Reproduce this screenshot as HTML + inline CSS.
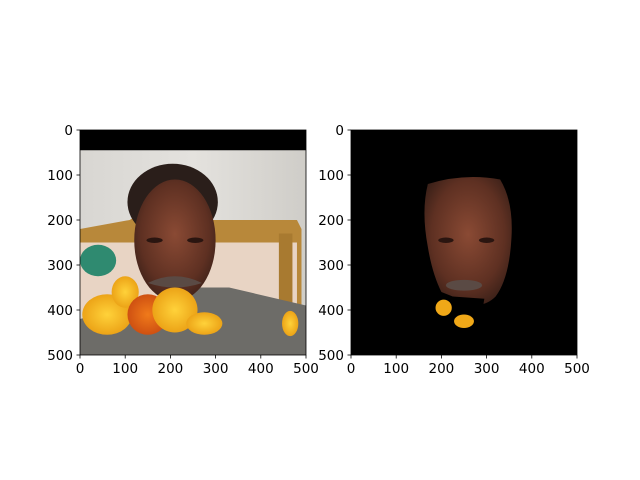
<!DOCTYPE html>
<html><head><meta charset="utf-8"><style>
html,body{margin:0;padding:0;background:#fff;}
svg{display:block;font-family:"DejaVu Sans","Liberation Sans",sans-serif;}
</style></head><body>
<svg id="fig" width="640" height="480" viewBox="0 0 640 480">
<defs>
<linearGradient id="wall" x1="0" y1="0" x2="1" y2="0"><stop offset="0" stop-color="#d8d6d2"/><stop offset="0.5" stop-color="#e4e2de"/><stop offset="1" stop-color="#cfcdc8"/></linearGradient>
<radialGradient id="skin" cx="0.5" cy="0.45" r="0.6"><stop offset="0" stop-color="#8a4a34"/><stop offset="0.7" stop-color="#5e3022"/><stop offset="1" stop-color="#3a2018"/></radialGradient>
<radialGradient id="leaf" cx="0.5" cy="0.5" r="0.6"><stop offset="0" stop-color="#ffd23a"/><stop offset="1" stop-color="#e89a10"/></radialGradient>
<radialGradient id="leafR" cx="0.5" cy="0.5" r="0.6"><stop offset="0" stop-color="#f07a1a"/><stop offset="1" stop-color="#c84810"/></radialGradient>
<clipPath id="clipL"><rect x="0" y="0" width="500" height="500"/></clipPath>
</defs>
</svg>
<script>
const xTicks=[0,100,200,300,400,500];
const yTicks=[0,100,200,300,400,500];
const xLim=[0,500];
const yLim=[0,500];
const axesBoxes=[{name:'left-image-axes',x0:80,y0:130,w:226,h:225},{name:'right-image-axes',x0:351,y0:130,w:226,h:225}];
const NS='http://www.w3.org/2000/svg';
const svg=document.getElementById('fig');
function mk(tag,attrs,parent){const e=document.createElementNS(NS,tag);for(const k in attrs)e.setAttribute(k,attrs[k]);(parent||svg).appendChild(e);return e;}
function content(g,idx){
  if(idx===0){
    let e;
    e=mk('rect',{x:0,y:0,width:500,height:500,fill:'url(#wall)'},g);
    
    e=mk('rect',{x:0,y:0,width:500,height:45,fill:'#000'},g);
    
    mk('path',{d:'M0 220 L110 200 L140 180 L170 200 L360 200 L480 200 L490 220 L490 400 L0 400 Z',fill:'#b8883a'},g);
    mk('rect',{x:0,y:250,width:480,height:150,fill:'#e8d4c4'},g);
    mk('ellipse',{cx:40,cy:290,rx:40,ry:35,fill:'#2f8a70'},g);
    mk('rect',{x:440,y:230,width:30,height:170,fill:'#a87a30'},g);
    mk('path',{d:'M0 420 L150 380 L250 350 L330 350 L500 390 L500 500 L0 500 Z',fill:'#6d6c68'},g);
    mk('ellipse',{cx:205,cy:160,rx:100,ry:85,fill:'#2a1e1a'},g);
    e=mk('ellipse',{cx:210,cy:245,rx:90,ry:135,fill:'url(#skin)'},g);
    
    mk('path',{d:'M150 340 Q210 310 270 340 Q210 360 150 340 Z',fill:'#5a4a44'},g);
    mk('ellipse',{cx:165,cy:245,rx:18,ry:6,fill:'#2a1510'},g);
    mk('ellipse',{cx:255,cy:245,rx:18,ry:6,fill:'#2a1510'},g);
    const leaves=[[60,410,55,45,'url(#leaf)'],[100,360,30,35,'url(#leaf)'],[150,410,45,45,'url(#leafR)'],[210,400,50,50,'url(#leaf)'],[275,430,40,25,'url(#leaf)'],[465,430,18,28,'url(#leaf)']];
    leaves.forEach((l,i)=>{e=mk('ellipse',{cx:l[0],cy:l[1],rx:l[2],ry:l[3],fill:l[4]},g);
      });
  } else {
    let e=mk('rect',{x:0,y:0,width:500,height:500,fill:'#000'},g);
    
    e=mk('path',{d:'M170 120 Q250 95 330 110 Q360 160 355 240 Q350 330 320 370 Q290 400 250 380 L200 360 Q180 320 170 260 Q155 180 170 120 Z',fill:'url(#skin)'},g);
    
    mk('ellipse',{cx:250,cy:345,rx:40,ry:12,fill:'#5a4a44'},g);
    mk('ellipse',{cx:210,cy:245,rx:17,ry:6,fill:'#2a1510'},g);
    mk('ellipse',{cx:300,cy:245,rx:17,ry:6,fill:'#2a1510'},g);
    mk('ellipse',{cx:205,cy:395,rx:18,ry:18,fill:'#f0a818'},g);
    mk('ellipse',{cx:250,cy:425,rx:22,ry:15,fill:'#f0a818'},g);
    mk('path',{d:'M225 370 L295 375 L290 405 L240 410 Z',fill:'#000'},g);
  }
}
axesBoxes.forEach((b,idx)=>{
  const sx=v=>b.x0+(v-xLim[0])/(xLim[1]-xLim[0])*b.w;
  const sy=v=>b.y0+(v-yLim[0])/(yLim[1]-yLim[0])*b.h;
  const ax=mk('g',{});
  
  
  const img=mk('g',{transform:`translate(${b.x0},${b.y0}) scale(${b.w/500},${b.h/500})`,'clip-path':'url(#clipL)'},ax);
  
  
  content(img,idx);
  const fr=mk('rect',{x:b.x0,y:b.y0,width:b.w,height:b.h,fill:'none',stroke:'#000','stroke-width':0.8},ax);
  
  
  xTicks.forEach(t=>{
    const x=sx(t);
    const l=mk('line',{x1:x,y1:b.y0+b.h,x2:x,y2:b.y0+b.h+3.5,stroke:'#000','stroke-width':0.8},ax);
    
    
    const tx=mk('text',{x:x,y:b.y0+b.h+18,'text-anchor':'middle','font-size':'13.5',fill:'#000'},ax);
    tx.textContent=t;
    
    
  });
  yTicks.forEach(t=>{
    const y=sy(t);
    const l=mk('line',{x1:b.x0-3.5,y1:y,x2:b.x0,y2:y,stroke:'#000','stroke-width':0.8},ax);
    
    
    const tx=mk('text',{x:b.x0-7,y:y+5,'text-anchor':'end','font-size':'13.5',fill:'#000'},ax);
    tx.textContent=t;
    
    
  });
});
</script>
</body></html>
